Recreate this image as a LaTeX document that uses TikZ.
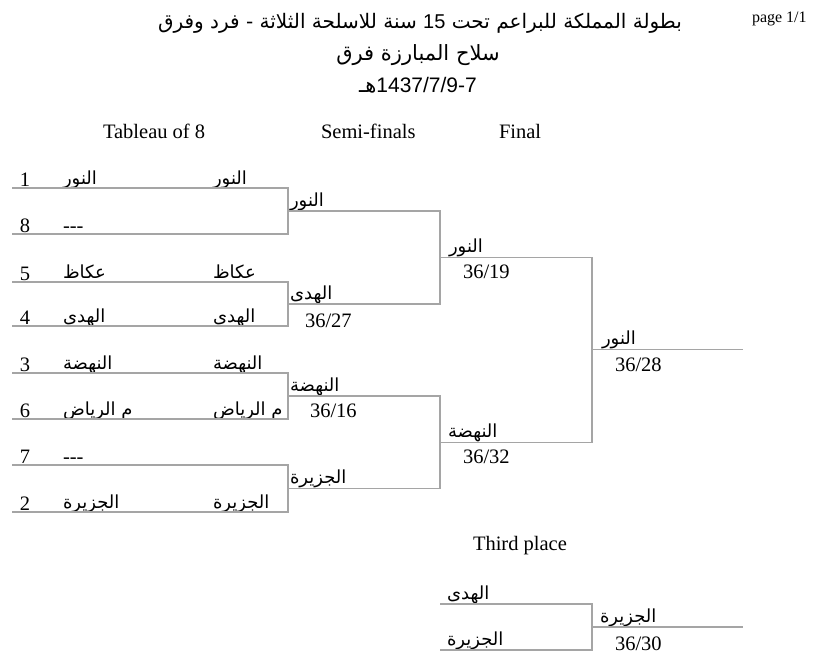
\documentclass[tikz,border=0pt]{standalone}
\usepackage{fontspec}
\setmainfont{Liberation Serif}
\newfontfamily\arabicfont[Script=Arabic]{DejaVu Sans}
\newfontfamily\latinsans{Liberation Sans}
\TeXXeTstate=1
\usepackage{xcolor}
\definecolor{linegray}{RGB}{165,165,165}
\usepackage{tikz}
\usetikzlibrary{calc}
\newcommand{\ar}[1]{\beginR #1\endR}
\tikzset{
    common/.style={inner sep=0pt, outer sep=0pt},
    bracket/.style={draw=linegray, line width=1.2pt},
    seed/.style={common, anchor=base, font=\fontsize{20.5}{24}\selectfont},
    team/.style={common, anchor=base west, font=\fontsize{18}{22}\arabicfont},
    score/.style={common, anchor=base west, font=\fontsize{20.5}{24}\selectfont},
    heading/.style={common, anchor=base west, font=\fontsize{20.5}{24}\selectfont},
    title/.style={common, anchor=base, font=\fontsize{21}{26}\arabicfont}
}

\begin{document}
\begin{tikzpicture}[x=1pt, y=-1pt]
      \useasboundingbox (0,0) rectangle (827,659);

      \node[title, font=\fontsize{20}{24}\arabicfont] (title) at (420,28) {\ar{بطولة المملكة للبراعم تحت {\latinsans\beginL 15\endL} سنة للاسلحة الثلاثة - فرد وفرق}};
      \node[title] (weapon) at (418,60) {\ar{سلاح المبارزة فرق}};
      \node[title] (date) at (418,92) {\ar{{\latinsans\beginL 1437/7/9-7\endL}هـ}};
      \node[common, anchor=base west, font=\fontsize{16}{19}\selectfont] (page) at (752,22) {page 1/1};

      \node[heading] (h-tableau) at (103,138) {Tableau of 8};
      \node[heading] (h-semi) at (321,138) {Semi-finals};
      \node[heading] (h-final) at (499,138) {Final};
      \node[heading] (h-third) at (473,550) {Third place};

      \path
          (12,188) coordinate (r1)
          +(276,0) coordinate (r1-end)
          +(13,-2) node[seed] (r1-seed) {1}
          +(51,-4) node[team] (r1-team) {\ar{النور}}
          +(201,-4) node[team] (r1-next) {\ar{النور}};
      \path
          (12,234) coordinate (r8)
          +(276,0) coordinate (r8-end)
          +(13,-2) node[seed] (r8-seed) {8}
          +(51,-2) node[seed, anchor=base west] (r8-team) {-{}-{}-};
      \path
          (12,282) coordinate (r5)
          +(276,0) coordinate (r5-end)
          +(13,-2) node[seed] (r5-seed) {5}
          +(51,-4) node[team] (r5-team) {\ar{عكاظ}}
          +(201,-4) node[team] (r5-next) {\ar{عكاظ}};
      \path
          (12,326) coordinate (r4)
          +(276,0) coordinate (r4-end)
          +(13,-2) node[seed] (r4-seed) {4}
          +(51,-4) node[team] (r4-team) {\ar{الهدى}}
          +(201,-4) node[team] (r4-next) {\ar{الهدى}};
      \path
          (12,373) coordinate (r3)
          +(276,0) coordinate (r3-end)
          +(13,-2) node[seed] (r3-seed) {3}
          +(51,-4) node[team] (r3-team) {\ar{النهضة}}
          +(201,-4) node[team] (r3-next) {\ar{النهضة}};
      \path
          (12,419) coordinate (r6)
          +(276,0) coordinate (r6-end)
          +(13,-2) node[seed] (r6-seed) {6}
          +(51,-4) node[team] (r6-team) {\ar{م الرياض}}
          +(201,-4) node[team] (r6-next) {\ar{م الرياض}};
      \path
          (12,465) coordinate (r7)
          +(276,0) coordinate (r7-end)
          +(13,-2) node[seed] (r7-seed) {7}
          +(51,-2) node[seed, anchor=base west] (r7-team) {-{}-{}-};
      \path
          (12,512) coordinate (r2)
          +(276,0) coordinate (r2-end)
          +(13,-2) node[seed] (r2-seed) {2}
          +(51,-4) node[team] (r2-team) {\ar{الجزيرة}}
          +(201,-4) node[team] (r2-next) {\ar{الجزيرة}};

      \path
          ($(r1-end)!0.5!(r8-end)$) coordinate (s1)
          +(152,0) coordinate (s1-end)
          +(2,-5) node[team] (s1-team) {\ar{النور}};
      \path
          ($(r5-end)!0.5!(r4-end)$) coordinate (s2)
          +(152,0) coordinate (s2-end)
          +(2,-5) node[team] (s2-team) {\ar{الهدى}}
          +(17,23) node[score] (s2-score) {36/27};
      \path
          ($(r3-end)!0.5!(r6-end)$) coordinate (s3)
          +(152,0) coordinate (s3-end)
          +(2,-5) node[team] (s3-team) {\ar{النهضة}}
          +(22,21) node[score] (s3-score) {36/16};
      \path
          ($(r7-end)!0.5!(r2-end)$) coordinate (s4)
          +(152,0) coordinate (s4-end)
          +(2,-5) node[team] (s4-team) {\ar{الجزيرة}};

      \path
          ($(s1-end)!0.5!(s2-end)$) coordinate (f1)
          +(152,0) coordinate (f1-end)
          +(9,-5) node[team] (f1-team) {\ar{النور}}
          +(23,21) node[score] (f1-score) {36/19};
      \path
          ($(s3-end)!0.5!(s4-end)$) coordinate (f2)
          +(152,0) coordinate (f2-end)
          +(8,-5) node[team] (f2-team) {\ar{النهضة}}
          +(23,21) node[score] (f2-score) {36/32};
      \path
          ($(f1-end)!0.5!(f2-end)$) coordinate (champ)
          +(151,0) coordinate (champ-end)
          +(10,-5) node[team] (champ-team) {\ar{النور}}
          +(23,22) node[score] (champ-score) {36/28};

      \path
          (440,604) coordinate (t1)
          +(152,0) coordinate (t1-end)
          +(7,-5) node[team] (t1-team) {\ar{الهدى}};
      \path
          (440,650) coordinate (t2)
          +(152,0) coordinate (t2-end)
          +(7,-5) node[team] (t2-team) {\ar{الجزيرة}};
      \path
          ($(t1-end)!0.5!(t2-end)$) coordinate (third)
          +(151,0) coordinate (third-end)
          +(8,-5) node[team] (third-team) {\ar{الجزيرة}}
          +(23,23) node[score] (third-score) {36/30};

      \draw[bracket] (r1) -- (r1-end) -- (r8-end) -- (r8);
      \draw[bracket] (r5) -- (r5-end) -- (r4-end) -- (r4);
      \draw[bracket] (r3) -- (r3-end) -- (r6-end) -- (r6);
      \draw[bracket] (r7) -- (r7-end) -- (r2-end) -- (r2);
      \draw[bracket] (s1) -- (s1-end) -- (s2-end) -- (s2);
      \draw[bracket] (s3) -- (s3-end) -- (s4-end) -- (s4);
      \draw[bracket] (f1) -- (f1-end) -- (f2-end) -- (f2);
      \draw[bracket] (champ) -- (champ-end);
      \draw[bracket] (t1) -- (t1-end) -- (t2-end) -- (t2);
      \draw[bracket] (third) -- (third-end);
    \end{tikzpicture}
\end{document}
